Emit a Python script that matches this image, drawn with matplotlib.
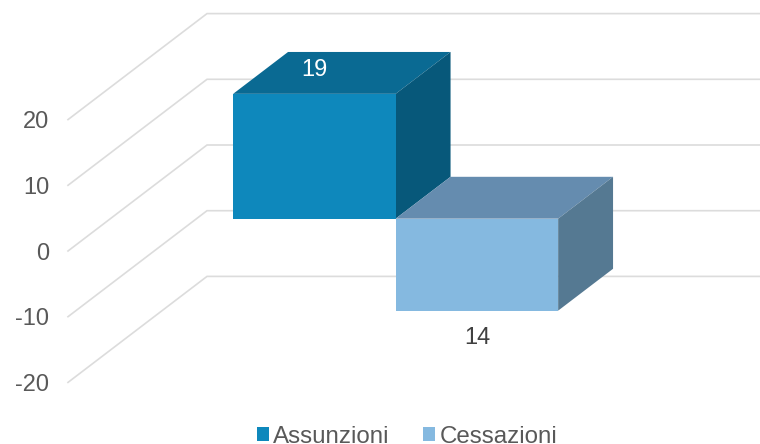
import matplotlib
matplotlib.use("Agg")
import matplotlib.pyplot as plt
from matplotlib.patches import Polygon, Patch

plt.rcParams['font.family'] = ['Liberation Sans', 'DejaVu Sans']

# data
series_names = ["Assunzioni", "Cessazioni"]
series_values = [19, -14]
data_labels = ["19", "14"]
tick_values = [-20, -10, 0, 10, 20]
tick_labels = ["-20", "-10", "0", "10", "20"]

# style
front_colors = ["#0E88BC", "#85B9E0"]
top_colors = ["#0A6A93", "#658CAF"]
side_colors = ["#07587A", "#557992"]
label_colors = ["#FFFFFF", "#404040"]
grid_color = "#DCDCDC"
text_color = "#595959"
font_size = 17

W, H = 760, 444
px_per_x = 162.5      # pixels per category
px_per_v = 6.57       # pixels per value unit
x0_px = 272.0         # pixel column of category 0 on the front plane
v0_px = 251.0         # pixel row of value 0 on the front plane
left_px = 56.0
depth_dx = 139 / px_per_x
depth_dy = 106 / px_per_v
wall_x = (68 - x0_px) / px_per_x
bar_d0, bar_d1 = 0.305, 0.70


def project(x, v, d):
    return (x + d * depth_dx, v + d * depth_dy)


fig = plt.figure(figsize=(W / 100, H / 100), dpi=100)
ax = fig.add_axes([left_px / W, 0, 1 - left_px / W, 1])
ax.set_xlim((left_px - x0_px) / px_per_x, (W - x0_px) / px_per_x)
ax.set_ylim((v0_px - H) / px_per_v, v0_px / px_per_v)
for s in ax.spines.values():
    s.set_visible(False)
ax.set_xticks([])
ax.set_yticks(tick_values)
ax.set_yticklabels(tick_labels, fontsize=font_size, color=text_color)
ax.tick_params(axis='y', length=0, pad=5)
ax.patch.set_visible(False)

x_right = ax.get_xlim()[1]
for v in tick_values:
    p0 = project(wall_x, v, 0)
    p1 = project(wall_x, v, 1)
    ax.plot([p0[0], p1[0], x_right], [p0[1], p1[1], p1[1]],
            color=grid_color, lw=1.2, zorder=1, solid_joinstyle='miter')

for i, val in enumerate(series_values):
    xl, xr = i - 0.5, i + 0.5
    hi, lo = max(val, 0), min(val, 0)
    top = [project(xl, hi, bar_d0), project(xr, hi, bar_d0),
           project(xr, hi, bar_d1), project(xl, hi, bar_d1)]
    side = [project(xr, hi, bar_d0), project(xr, lo, bar_d0),
            project(xr, lo, bar_d1), project(xr, hi, bar_d1)]
    front = [project(xl, hi, bar_d0), project(xr, hi, bar_d0),
             project(xr, lo, bar_d0), project(xl, lo, bar_d0)]
    z = 2 + i
    ax.add_patch(Polygon(top, closed=True, fc=top_colors[i], ec='none', zorder=z))
    ax.add_patch(Polygon(side, closed=True, fc=side_colors[i], ec='none', zorder=z))
    ax.add_patch(Polygon(front, closed=True, fc=front_colors[i], ec='none', zorder=z))
    lx = project(i, 0, bar_d0)[0]
    if val >= 0:
        ly = project(i, val, 0.53)[1]
    else:
        ly = project(i, val - 4.15, bar_d0)[1]
    ax.text(lx, ly, data_labels[i], ha='center', va='center',
            fontsize=font_size, color=label_colors[i], zorder=10)

handles = [Patch(fc=c, ec='none') for c in front_colors]
leg = ax.legend(handles, series_names, ncol=2, frameon=False,
                loc='lower left', bbox_to_anchor=(256.5 / W, -0.008),
                bbox_transform=fig.transFigure, fontsize=17.4,
                labelcolor=text_color, handlelength=0.5, handleheight=0.5,
                handletextpad=0.2, columnspacing=1.38, borderpad=0, borderaxespad=0)

fig.savefig("out.png", dpi=100, facecolor="white")
